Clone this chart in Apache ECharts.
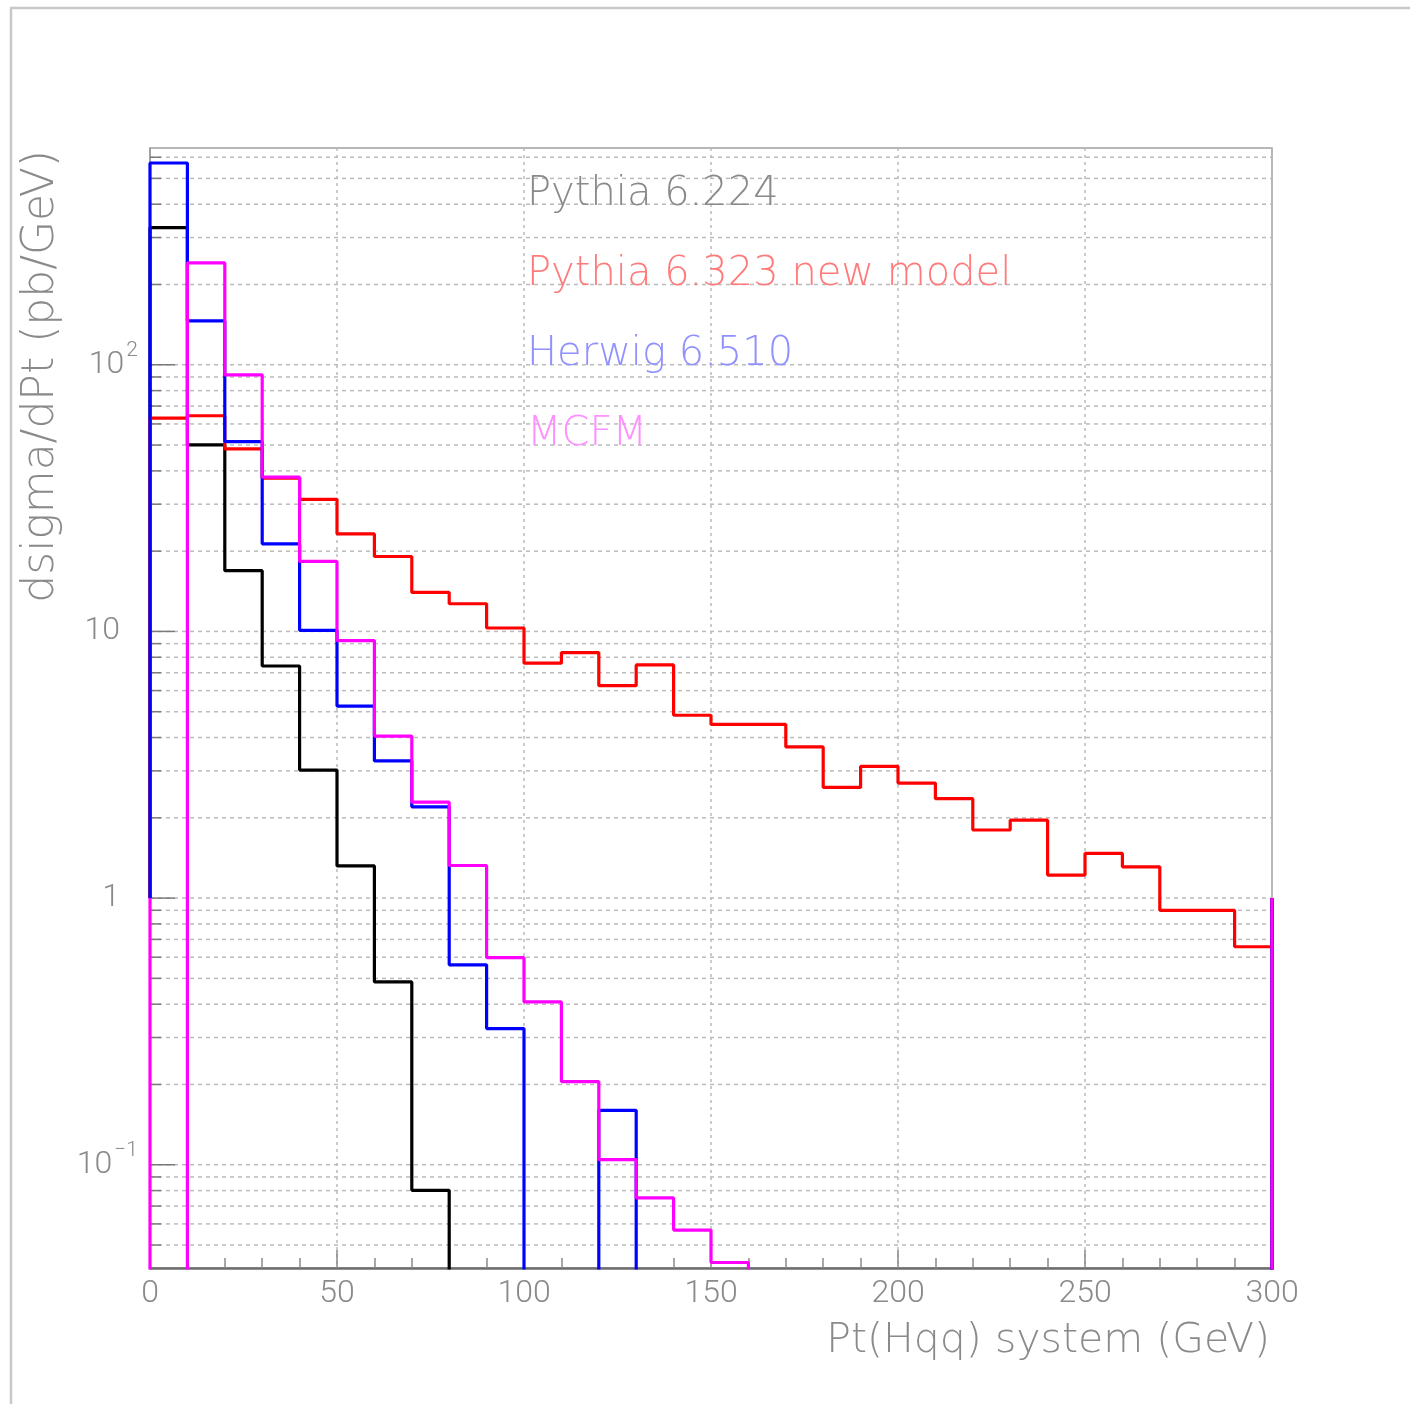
<!DOCTYPE html>
<html>
<head>
<meta charset="utf-8">
<title>Pt(Hqq) system</title>
<script src="https://cdn.jsdelivr.net/npm/echarts@6/dist/echarts.min.js"></script>
<style>
  html, body { margin: 0; padding: 0; background: #ffffff; }
  #chart { width: 1410px; height: 1404px; }
</style>
</head>
<body>
<div id="chart"></div>
<script>
// Histogram bin edges in GeV (30 bins of 10 GeV)
const binEdges = [0, 10, 20, 30, 40, 50, 60, 70, 80, 90, 100, 110, 120, 130, 140, 150,
                  160, 170, 180, 190, 200, 210, 220, 230, 240, 250, 260, 270, 280, 290, 300];

// dsigma/dPt per bin (pb/GeV); 0 = empty bin
const pythia6224 = [327, 50.1, 16.9, 7.42, 3.02, 1.32, 0.485, 0.0802, 0, 0,
                    0, 0, 0, 0, 0, 0, 0, 0, 0, 0,
                    0, 0, 0, 0, 0, 0, 0, 0, 0, 0];
const pythia6323 = [63.1, 64.4, 48.4, 37.6, 31.3, 23.2, 19.1, 14.0, 12.7, 10.3,
                    7.6, 8.33, 6.26, 7.49, 4.85, 4.48, 4.48, 3.69, 2.60, 3.12,
                    2.70, 2.36, 1.80, 1.96, 1.22, 1.47, 1.31, 0.90, 0.90, 0.657];
const herwig6510 = [571, 146, 51.5, 21.3, 10.1, 5.25, 3.27, 2.20, 0.562, 0.324,
                    0, 0, 0.160, 0, 0, 0, 0, 0, 0, 0,
                    0, 0, 0, 0, 0, 0, 0, 0, 0, 0];
const mcfm       = [0, 241, 91.7, 37.9, 18.3, 9.24, 4.05, 2.29, 1.325, 0.598,
                    0.408, 0.205, 0.1045, 0.0751, 0.0569, 0.043, 0, 0, 0, 0,
                    0, 0, 0, 0, 0, 0, 0, 0, 0, 0];

const seriesNames  = ['Pythia 6.224', 'Pythia 6.323 new model', 'Herwig 6.510', 'MCFM'];
const seriesValues = [pythia6224, pythia6323, herwig6510, mcfm];
const lineColors   = ['#000000', '#ff0000', '#0000ff', '#ff00ff'];
const labelColors  = ['#8a8a8a', '#ff7a7a', '#9090ff', '#ff90ff'];

// Axis ranges and tick labels
const xMin = 0, xMax = 300, xStep = 50;
const yMin = 0.041, yMax = 650;
const yDecades   = [0.1, 1, 10, 100];
const yDecBase   = ['10', '1', '10', '10'];
const yDecExp    = ['\u22121', '', '', '2'];
const xTitle = 'Pt(Hqq) system (GeV)';
const yTitle = 'dsigma/dPt (pb/GeV)';

// Outline edges of each histogram start and end at 1 (log baseline);
// empty bins fall below the visible range and are clipped.
const edgeBase = 1;
const emptyLevel = yMin / 4;

function outline(values) {
  const pts = [[binEdges[0], edgeBase]];
  values.forEach((v, i) => {
    const y = v > 0 ? v : emptyLevel;
    pts.push([binEdges[i], y], [binEdges[i + 1], y]);
  });
  pts.push([binEdges[binEdges.length - 1], edgeBase]);
  return pts;
}

// Horizontal grid levels: 1..9 x 10^k inside the y range
const yGridLevels = [];
for (let k = -2; k <= 3; k++) {
  for (let m = 1; m <= 9; m++) {
    const v = m * Math.pow(10, k);
    if (v >= yMin && v <= yMax) yGridLevels.push([xMin, v, m === 1 ? 1 : 0]);
  }
}

const grey = '#8a8a8a';
const tickFont = 'Roboto';
const textFont = "'DejaVu Sans'";

const histSeries = seriesNames.map((name, i) => ({
  name: name,
  type: 'line',
  data: outline(seriesValues[i]),
  showSymbol: false,
  symbol: 'none',
  clip: true,
  z: 3,
  lineStyle: { color: lineColors[i], width: 3.2 },
  emphasis: { disabled: true },
  animation: false
}));

const gridSeries = {
  name: 'grid',
  type: 'custom',
  coordinateSystem: 'cartesian2d',
  silent: true,
  z: 1,
  data: yGridLevels,
  renderItem: function (params, api) {
    const v = api.value(1);
    const major = api.value(2) === 1;
    const a = api.coord([xMin, v]);
    const b = api.coord([xMax, v]);
    return {
      type: 'group',
      children: [
        { type: 'line', shape: { x1: a[0], y1: a[1], x2: b[0], y2: b[1] },
          style: { stroke: '#bbbbbb', lineWidth: 1.5, lineDash: [4, 4] } },
        { type: 'line', shape: { x1: a[0], y1: a[1], x2: a[0] + (major ? 25 : 11), y2: a[1] },
          style: { stroke: '#7a7a7a', lineWidth: 1.5 } }
      ]
    };
  },
  animation: false
};

const legendTexts = seriesNames.map((name, i) => ({
  type: 'text',
  x: 527,
  y: 195 + 80 * i,
  style: {
    text: name,
    fill: labelColors[i],
    font: '200 40px ' + textFont,
    verticalAlign: 'middle',
    align: 'left'
  },
  z: 10
}));

const option = {
  backgroundColor: '#ffffff',
  animation: false,
  grid: {
    left: 150, right: 138, top: 148, bottom: 136,
    show: true, borderColor: '#a0a0a0', borderWidth: 1.5,
    backgroundColor: 'transparent'
  },
  xAxis: {
    type: 'value',
    min: xMin, max: xMax, interval: xStep,
    axisLine: { lineStyle: { color: '#6e6e6e', width: 2.5 } },
    axisTick: { inside: true, length: 18, lineStyle: { color: grey, width: 1.5 } },
    minorTick: { show: true, splitNumber: 5, length: 10, lineStyle: { color: grey, width: 1.5 } },
    splitLine: { show: true, lineStyle: { color: '#bbbbbb', width: 1.5, type: [3, 4] } },
    axisLabel: { margin: 10, color: grey, fontSize: 32, fontFamily: tickFont, fontWeight: 300 }
  },
  yAxis: {
    type: 'log',
    logBase: 10,
    min: yMin, max: yMax,
    axisLine: { show: true, lineStyle: { color: '#9a9a9a', width: 1.5 } },
    axisTick: { show: false },
    splitLine: { show: false },
    axisLabel: {
      margin: 12,
      showMinLabel: false,
      showMaxLabel: false,
      formatter: function (v) {
        const idx = yDecades.findIndex(d => Math.abs(Math.log10(d) - Math.log10(v)) < 1e-6);
        if (idx < 0) return '';
        return yDecExp[idx] ? '{b|' + yDecBase[idx] + '}{e|' + yDecExp[idx] + '}'
                            : '{p|' + yDecBase[idx] + '}';
      },
      rich: {
        b: { color: grey, fontSize: 32, fontFamily: tickFont, fontWeight: 300 },
        p: { color: grey, fontSize: 32, fontFamily: tickFont, fontWeight: 300, padding: [0, 18, 0, 0] },
        e: { color: grey, fontSize: 21, fontFamily: tickFont, fontWeight: 300, padding: [0, 0, 28, 2] }
      }
    }
  },
  graphic: [
    { type: 'line', shape: { x1: 11, y1: 8, x2: 11, y2: 1404 },
      style: { stroke: '#c8c8c8', lineWidth: 2.5 }, z: 0 },
    { type: 'line', shape: { x1: 10, y1: 8, x2: 1410, y2: 8 },
      style: { stroke: '#c8c8c8', lineWidth: 2.5 }, z: 0 },
    { type: 'text', x: 1270, y: 1341,
      style: { text: xTitle, fill: grey, font: '200 41px ' + textFont, align: 'right', verticalAlign: 'middle' } },
    { type: 'text', x: 42, y: 150, rotation: Math.PI / 2,
      style: { text: yTitle, fill: grey, font: '200 44px ' + textFont, align: 'right', verticalAlign: 'middle' } }
  ].concat(legendTexts),
  series: [gridSeries].concat(histSeries)
};

const chart = echarts.init(document.getElementById('chart'), null, { renderer: 'canvas' });
chart.setOption(option);
</script>
</body>
</html>
